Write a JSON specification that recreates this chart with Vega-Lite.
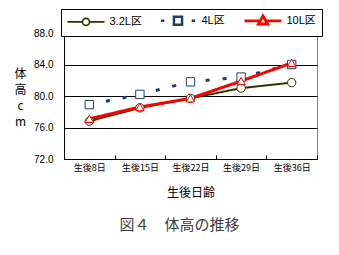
{
  "$schema": "https://vega.github.io/schema/vega-lite/v6.json",
  "width": 253,
  "height": 126,
  "autosize": {"type": "none"},
  "padding": {"left": 64, "top": 33, "right": 22, "bottom": 96},
  "background": "white",
  "title": {
    "text": "図４　体高の推移",
    "orient": "bottom",
    "anchor": "middle",
    "dx": -11,
    "offset": 20,
    "font": "Noto Sans CJK JP",
    "fontSize": 15,
    "fontWeight": "normal",
    "color": "#404040"
  },
  "data": {
    "values": [
      {"day": "生後8日", "series": "3.2L区", "value": 76.8},
      {"day": "生後15日", "series": "3.2L区", "value": 78.5},
      {"day": "生後22日", "series": "3.2L区", "value": 79.7},
      {"day": "生後29日", "series": "3.2L区", "value": 81.0},
      {"day": "生後36日", "series": "3.2L区", "value": 81.7},
      {"day": "生後8日", "series": "4L区", "value": 78.9},
      {"day": "生後15日", "series": "4L区", "value": 80.2},
      {"day": "生後22日", "series": "4L区", "value": 81.8},
      {"day": "生後29日", "series": "4L区", "value": 82.4},
      {"day": "生後36日", "series": "4L区", "value": 84.0},
      {"day": "生後8日", "series": "10L区", "value": 77.1},
      {"day": "生後15日", "series": "10L区", "value": 78.6},
      {"day": "生後22日", "series": "10L区", "value": 79.7},
      {"day": "生後29日", "series": "10L区", "value": 81.9},
      {"day": "生後36日", "series": "10L区", "value": 84.2}
    ]
  },
  "encoding": {
    "x": {
      "field": "day",
      "type": "nominal",
      "sort": null,
      "scale": {"type": "band", "paddingInner": 0, "paddingOuter": 0},
      "axis": {
        "title": "生後日齢",
        "titleFont": "Noto Sans CJK JP",
        "titleFontSize": 12,
        "titleFontWeight": "normal",
        "titleColor": "black",
        "titleBaseline": "middle",
        "titleY": 33,
        "labelAngle": 0,
        "labelFont": "Noto Sans CJK JP",
        "labelFontSize": 9,
        "labelColor": "black",
        "labelPadding": 8,
        "tickBand": "extent",
        "tickSize": -4,
        "tickColor": "black",
        "domainColor": "black",
        "grid": false
      }
    },
    "y": {
      "field": "value",
      "type": "quantitative",
      "scale": {"domain": [72, 88], "nice": false, "zero": false},
      "axis": {
        "values": [72, 76, 80, 84, 88],
        "format": ".1f",
        "title": ["体", "高", "c", "m"],
        "titleAngle": 0,
        "titleAlign": "center",
        "titleBaseline": "middle",
        "titleX": -44,
        "titleY": 40,
        "titleLineHeight": 16,
        "titleFont": "Noto Sans CJK JP",
        "titleFontSize": 12,
        "titleFontWeight": "normal",
        "titleColor": "black",
        "labelFont": "Liberation Sans",
        "labelFontSize": 10,
        "labelColor": "black",
        "labelPadding": 11,
        "ticks": false,
        "domainColor": "black",
        "grid": true,
        "gridColor": {"condition": {"test": "datum.value === 88 || datum.value === 72", "value": "transparent"}, "value": "black"},
        "gridWidth": 1
      }
    },
    "color": {
      "field": "series",
      "type": "nominal",
      "scale": {"domain": ["3.2L区", "4L区", "10L区"], "range": ["#333300", "#1F3F6F", "#FF0000"]},
      "legend": {
        "title": null,
        "orient": "none",
        "legendX": -3,
        "legendY": -24,
        "direction": "horizontal",
        "columns": 3,
        "columnPadding": 13,
        "padding": 6,
        "strokeColor": "black",
        "fillColor": "white",
        "symbolSize": 1369,
        "symbolOffset": 13.5,
        "symbolType": "M-1,0H1",
        "labelFont": "Liberation Sans, Noto Sans CJK JP",
        "labelFontSize": 11,
        "labelColor": "black",
        "labelOffset": 18,
        "encode": {
          "symbols": {
            "update": {
              "shape": {"signal": "datum.value === '3.2L区' ? 'M-1,0H-0.19M0.19,0H1M0.19,0A0.19,0.19,0,1,1,-0.19,0A0.19,0.19,0,1,1,0.19,0Z' : datum.value === '4L区' ? 'M-0.92,0H-0.74M0.74,0H0.92M-0.22,-0.22H0.22V0.22H-0.22Z' : 'M-1,0H-0.2M0.2,0H1M0,-0.27L0.25,0.17H-0.25Z'"},
              "strokeWidth": {"signal": "datum.value === '3.2L区' ? 1.6 : datum.value === '4L区' ? 2.5 : 2.8"},
              "fill": {"value": "white"},
              "opacity": {"value": 1}
            }
          }
        }
      }
    }
  },
  "layer": [
    {
      "mark": {"type": "line"},
      "encoding": {
        "strokeWidth": {
          "condition": [
            {"test": "datum.series === '3.2L区'", "value": 2}
          ],
          "value": 3
        },
        "strokeDash": {
          "condition": [
            {"test": "datum.series === '4L区'", "value": [4, 13]}
          ],
          "value": [1, 0]
        }
      }
    },
    {
      "mark": {"type": "point", "filled": false, "fill": "white", "opacity": 1, "size": 70, "strokeWidth": 1},
      "encoding": {
        "shape": {
          "condition": [
            {"test": "datum.series === '3.2L区'", "value": "circle"},
            {"test": "datum.series === '4L区'", "value": "square"}
          ],
          "value": "triangle-up"
        }
      }
    }
  ],
  "config": {
    "view": {"stroke": "#808080", "strokeWidth": 1},
    "legend": {"strokeColor": "black", "strokeWidth": 1}
  }
}
